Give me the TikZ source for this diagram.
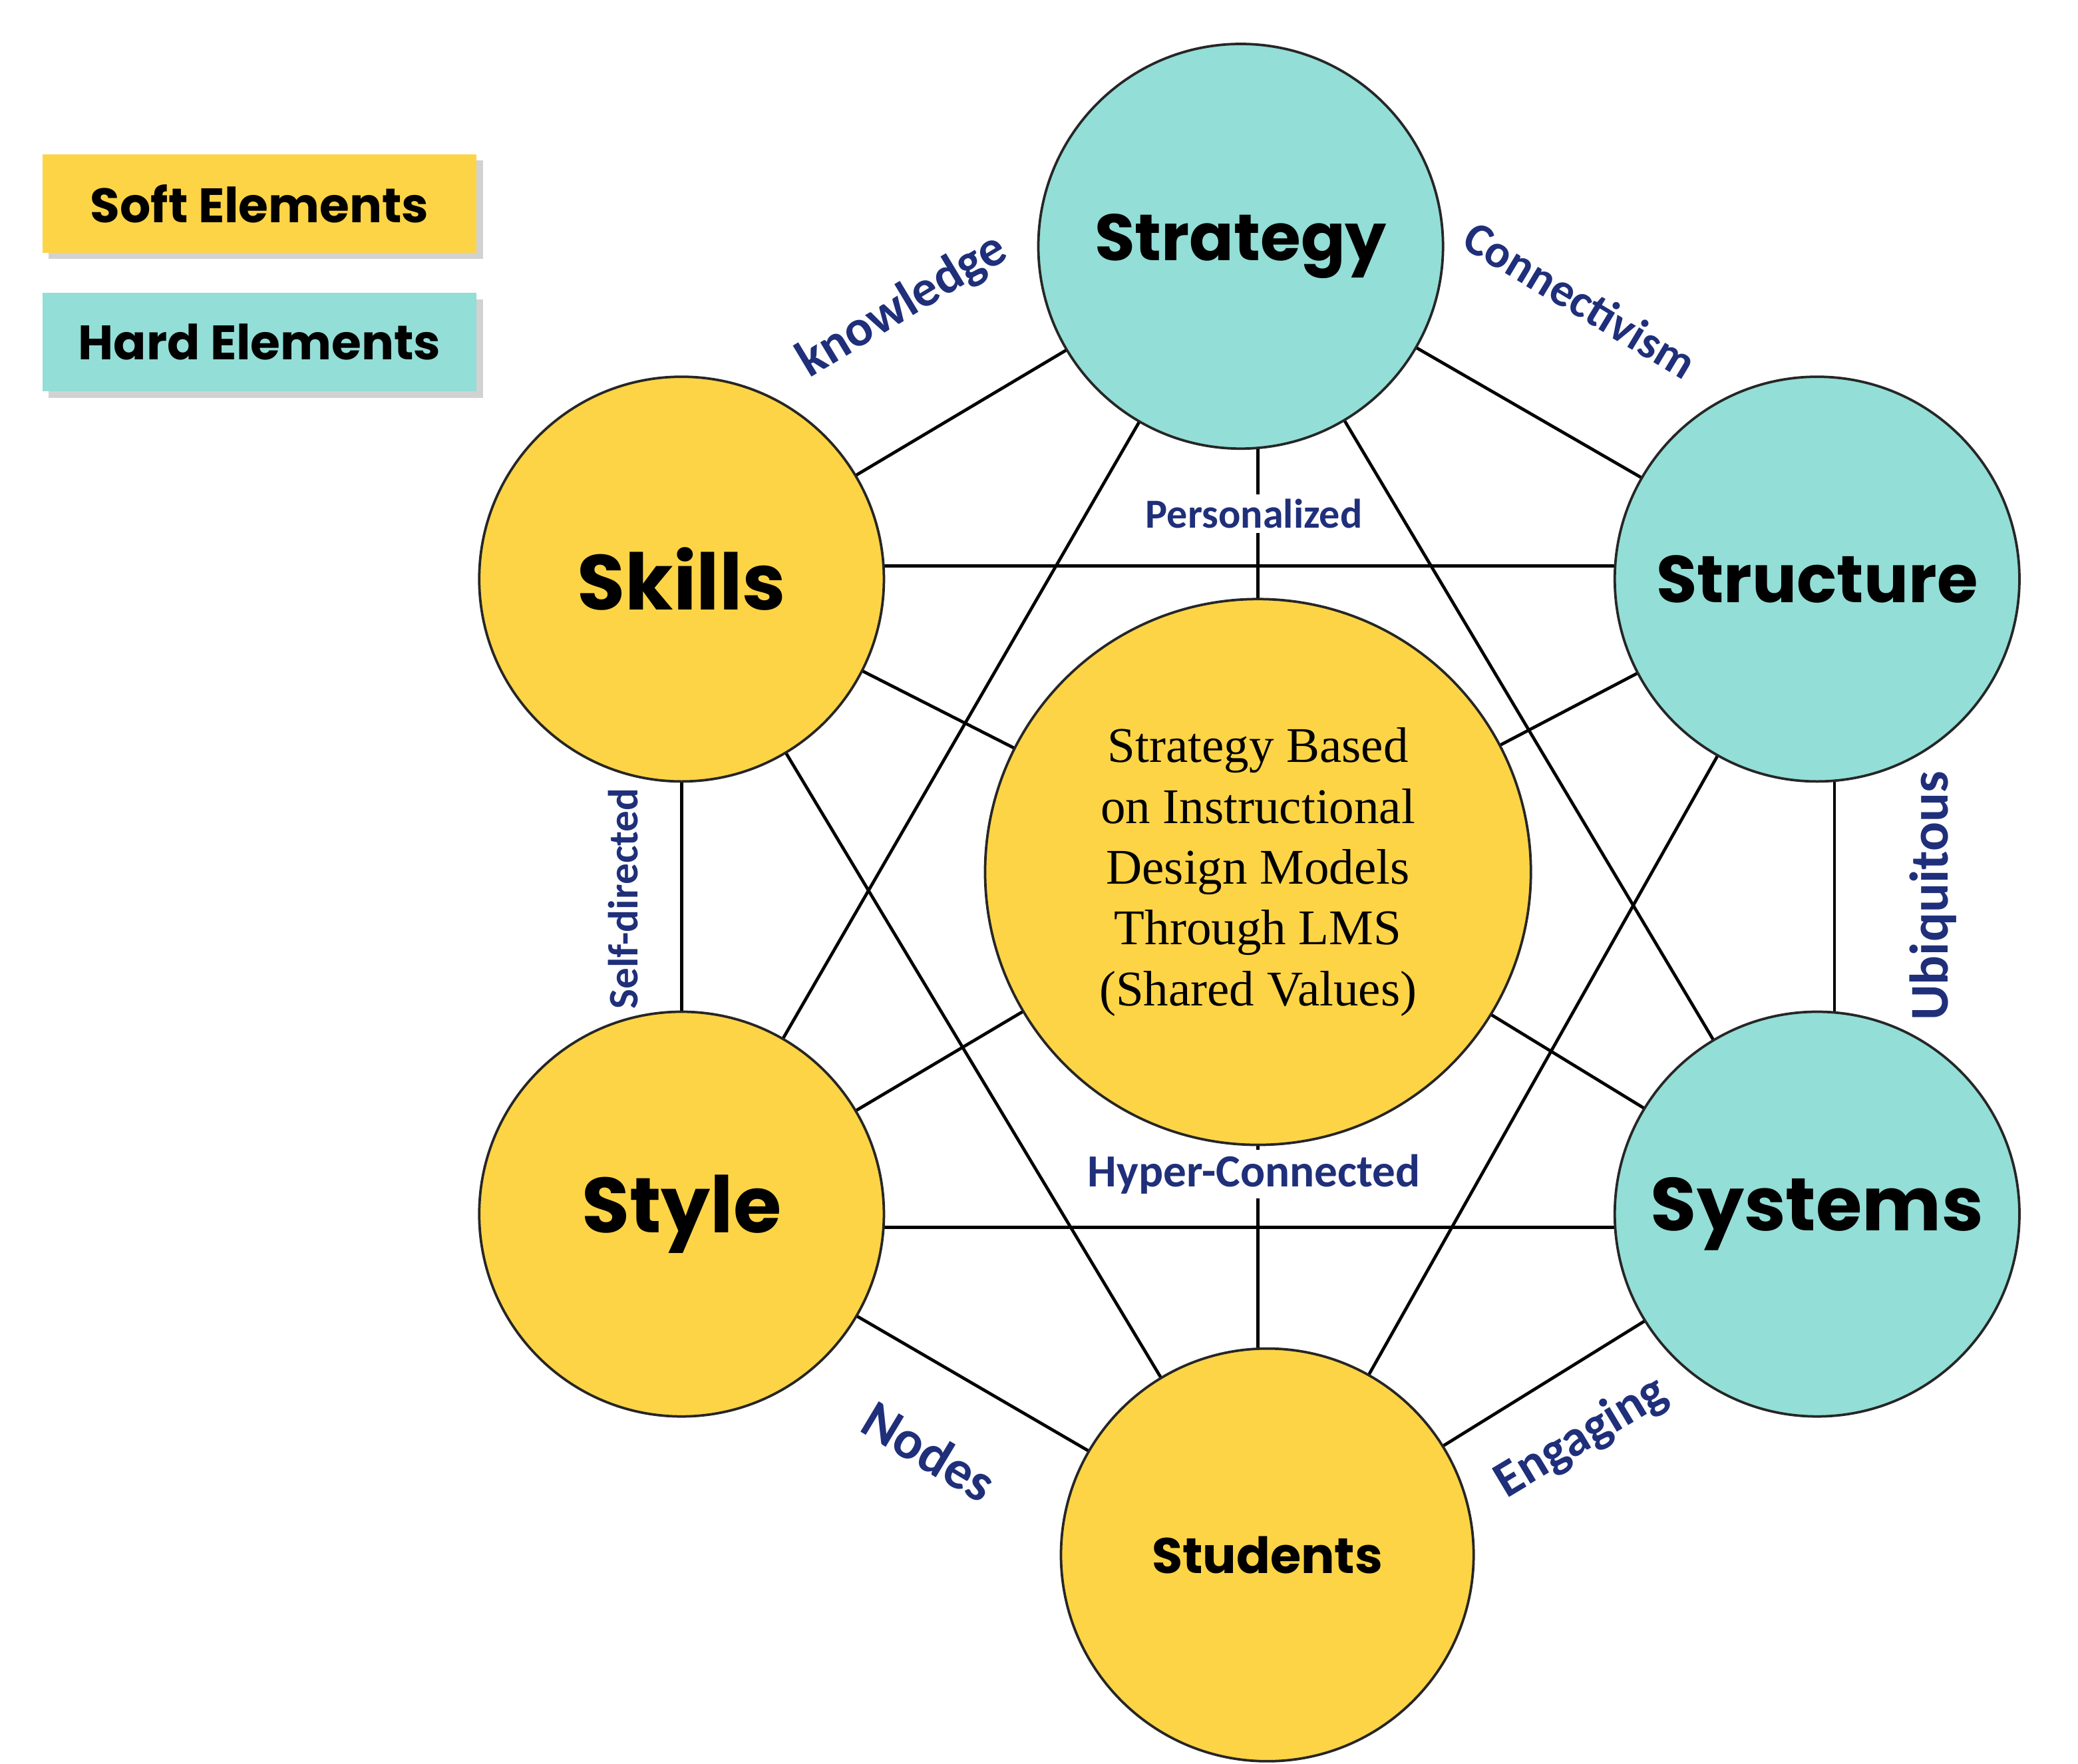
\documentclass[tikz,border=0pt]{standalone}
\usepackage{fontspec}
\setmainfont{Liberation Serif}
\newfontfamily\pop{Poppins}
\newfontfamily\carl{Carlito}
\definecolor{yel}{HTML}{FDD446}
\definecolor{teal2}{HTML}{93DED6}
\definecolor{navy}{HTML}{1F2F7A}
\usetikzlibrary{shadows}
\begin{document}
\begin{tikzpicture}[x=0.03cm,y=-0.03cm,
 circ/.style={circle,draw=black!85,line width=1.6pt,minimum size=304*0.03cm,inner sep=0pt},
 soft/.style={circ,fill=yel},
 hard/.style={circ,fill=teal2},
 nl/.style={font=\pop\bfseries\fontsize{42}{44}\selectfont},
 lab/.style={font=\carl\bfseries\fontsize{30}{32}\selectfont,text=navy,inner sep=0pt},
 leg/.style={minimum width=326*0.03cm,minimum height=74*0.03cm,font=\pop\bfseries\fontsize{31}{34}\selectfont,drop shadow={shadow xshift=4pt,shadow yshift=-4pt,fill=black!35}},
 con/.style={line width=2pt}]
\useasboundingbox (0,0) rectangle (1561,1325);
\node[leg,fill=yel] (soft) at (195,153) {Soft Elements};
\node[leg,fill=teal2] (hard) at (195,257) {Hard Elements};
\coordinate (c0) at (945,655);
\coordinate (c1) at (932,185);
\coordinate (c2) at (512,435);
\coordinate (c3) at (1365,435);
\coordinate (c4) at (512,912);
\coordinate (c5) at (1365,912);
\coordinate (c6) at (952,1168);
\begin{scope}[con]
\draw (c1)--(c2); \draw (c1)--(c3); \draw (945,185)--(945,655);
\draw (c1)--(c4); \draw (c1)--(c5);
\draw (512,425)--(1365,425); \draw (c2)--(c0); \draw (c2)--(c4); \draw (c2)--(c6);
\draw (c3)--(c0); \draw (1378,435)--(1378,912); \draw (c3)--(c6);
\draw (c4)--(c0); \draw (512,922)--(1365,922); \draw (c4)--(c6);
\draw (c5)--(c0); \draw (c5)--(c6); \draw (945,655)--(945,1168);
\end{scope}
\node[lab,fill=white,inner sep=3pt,font=\carl\bfseries\fontsize{26.5}{28}\selectfont] (pers) at (942,386) {Personalized};
\node[lab,fill=white,inner sep=3pt,font=\carl\bfseries\fontsize{29.5}{31}\selectfont] (hyp) at (942,882) {Hyper-Connected};
\node[soft,minimum size=410*0.03cm,align=center,font=\fontsize{32}{39}\selectfont] (center) at (c0) {Strategy Based\\on Instructional\\Design Models\\Through LMS\\(Shared Values)};
\node[hard,nl] (strategy) at (c1) {Strategy};
\node[soft,nl,font=\pop\bfseries\fontsize{50}{52}\selectfont] (skills) at (c2) {Skills};
\node[hard,nl,font=\pop\bfseries\fontsize{42.5}{44}\selectfont] (structure) at (c3) {Structure};
\node[soft,nl,font=\pop\bfseries\fontsize{50}{52}\selectfont] (style) at (c4) {Style};
\node[hard,nl,font=\pop\bfseries\fontsize{48}{50}\selectfont] (systems) at (c5) {Systems};
\node[soft,nl,minimum size=310*0.03cm,font=\pop\bfseries\fontsize{32}{34}\selectfont] (students) at (c6) {Students};
\node[lab,rotate=31,font=\carl\bfseries\fontsize{33}{34}\selectfont] (kn) at (678,230) {knowledge};
\node[lab,rotate=-31] (cn) at (1187,225) {Connectivism};
\node[lab,rotate=90,font=\carl\bfseries\fontsize{27}{28}\selectfont] (sd) at (468,675) {Self-directed};
\node[lab,rotate=90,font=\carl\bfseries\fontsize{35}{36}\selectfont] (ub) at (1452,673) {Ubiquitous};
\node[lab,rotate=-31,font=\carl\bfseries\fontsize{35}{36}\selectfont] (nd) at (698,1090) {Nodes};
\node[lab,rotate=31,font=\carl\bfseries\fontsize{33}{34}\selectfont] (en) at (1188,1080) {Engaging};
\end{tikzpicture}
\end{document}
